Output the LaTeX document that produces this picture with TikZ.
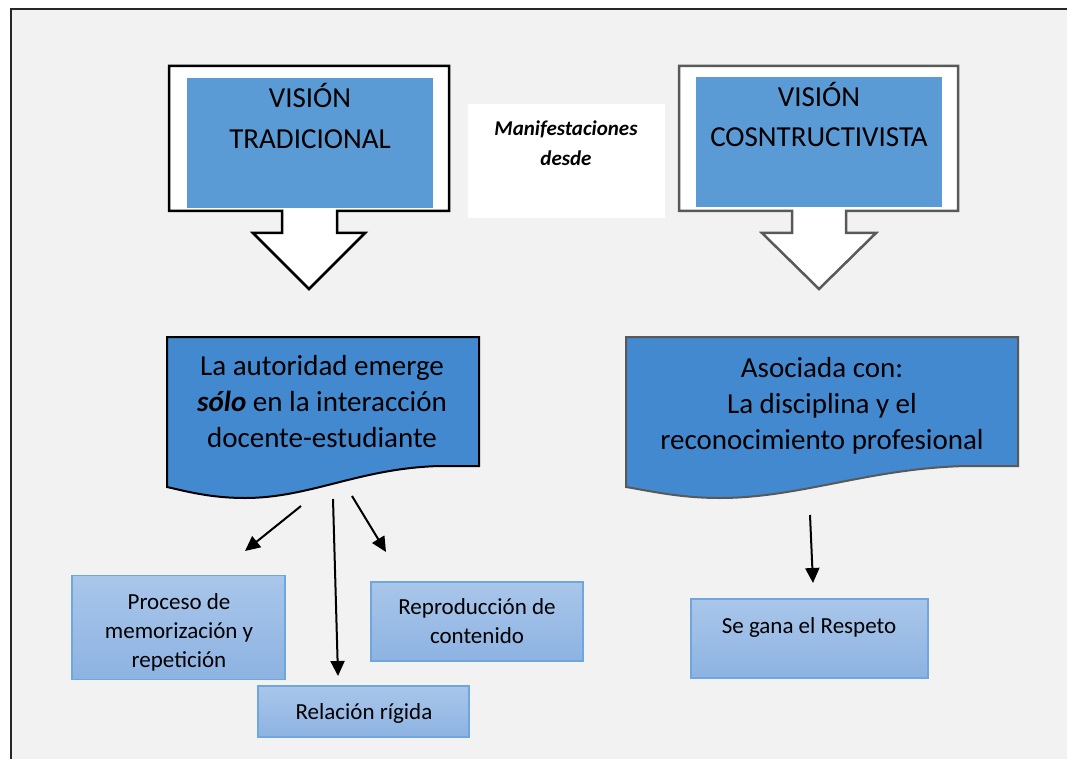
\documentclass[tikz,border=0pt]{standalone}
\usepackage{fontspec}
\setmainfont{Carlito}
\usetikzlibrary{arrows.meta}
\definecolor{bgfill}{HTML}{F2F2F2}
\definecolor{visblue}{HTML}{5B9BD5}
\definecolor{docblue}{HTML}{4389D0}
\definecolor{darkgray}{HTML}{595959}
\definecolor{smalltop}{HTML}{A9C6EA}
\definecolor{smallbot}{HTML}{8DB3E2}
\definecolor{smallline}{HTML}{6FA6DD}
\tikzset{
  bigtext/.style={inner sep=0pt, align=center, text=black},
  visfill/.style={fill=visblue, draw=none, inner sep=0pt},
  smallbox/.style={draw=smallline, line width=1.3pt, top color=smalltop, bottom color=smallbot, inner sep=0pt},
  conn/.style={line width=2pt, -{Triangle[length=15pt,width=14pt]}},
}
\begin{document}
\begin{tikzpicture}[x=1pt,y=-1pt]
\useasboundingbox (0,0) rectangle (1067,759);
% frame
\fill[white] (0,0) rectangle (1067,759);
\fill[bgfill] (11,9) rectangle (1067,759);
\draw[line width=2pt, black!85] (11,759) -- (11,9) -- (1067,9);

% left block arrow callout
\draw[line width=2.5pt, fill=white, line join=miter]
  (169,66) -- (449,66) -- (449,211) -- (337,211) -- (337,233) -- (365,233)
  -- (309,289) -- (253,233) -- (282,233) -- (282,211) -- (169,211) -- cycle;
\node[visfill, minimum width=246pt, minimum height=130pt] (tradbox) at (310,143) {};
\node[bigtext, font=\fontsize{29}{41}\selectfont] (tradtext) at (310,116) {VISIÓN\\TRADICIONAL};

% right block arrow callout
\draw[line width=2.5pt, draw=darkgray, fill=white, line join=miter]
  (679,66) -- (958,66) -- (958,211) -- (846,211) -- (846,233) -- (876,233)
  -- (819,289) -- (762,233) -- (792,233) -- (792,211) -- (679,211) -- cycle;
\node[visfill, minimum width=246pt, minimum height=130pt] (constbox) at (819,142) {};
\node[bigtext, font=\fontsize{29}{40}\selectfont] (consttext) at (819,115) {VISIÓN\\COSNTRUCTIVISTA};

% middle label
\node[fill=white, minimum width=197pt, minimum height=114pt, inner sep=0pt] (manibox) at (566.5,161) {};
\node[bigtext, font=\fontsize{21}{30}\selectfont\bfseries\itshape] (manitext) at (566,143) {Manifestaciones\\desde};

% left document shape
\draw[line width=2pt, fill=docblue]
  (167,337) -- (479,337) -- (479,466) -- (440,466)
  .. controls (360,468) and (310,498) .. (245,498)
  .. controls (210,498) and (185,491) .. (167,487) -- cycle;
\node[bigtext, font=\fontsize{29}{36}\selectfont] (lefttext) at (322,402)
  {La autoridad emerge\\\textbf{\textit{sólo}} en la interacción\\docente-estudiante};

% right document shape
\draw[line width=2pt, draw=darkgray, fill=docblue]
  (626,337) -- (1018,337) -- (1018,466) -- (967,466)
  .. controls (870,468) and (800,498) .. (720,498)
  .. controls (680,498) and (650,491) .. (626,487) -- cycle;
\node[bigtext, font=\fontsize{29}{36}\selectfont] (righttext) at (822,406)
  {Asociada con:\\La disciplina y el\\reconocimiento profesional};

% small boxes
\node[smallbox, minimum width=213pt, minimum height=104pt] (proceso) at (178.5,627.5) {};
\node[bigtext, font=\fontsize{23}{29}\selectfont] (procesotext) at (179,632)
  {Proceso de\\memorización y\\repetición};
\node[smallbox, minimum width=212pt, minimum height=79pt] (repro) at (477,621.5) {};
\node[bigtext, font=\fontsize{23}{29}\selectfont] (reprotext) at (477,621)
  {Reproducción de\\contenido};
\node[smallbox, minimum width=211pt, minimum height=51pt] (relacion) at (363.5,711.5) {};
\node[bigtext, font=\fontsize{23}{29}\selectfont] (relaciontext) at (364,713)
  {Relación rígida};
\node[smallbox, minimum width=237pt, minimum height=79pt] (respeto) at (809.5,638.5) {};
\node[bigtext, font=\fontsize{23}{29}\selectfont] (respetotext) at (809,627)
  {Se gana el Respeto};

% connectors (free ends)
\coordinate (s1) at (301,506); \coordinate (e1) at (245,551);
\coordinate (s2) at (333,499); \coordinate (e2) at (338,676);
\coordinate (s3) at (352,496); \coordinate (e3) at (386,552);
\coordinate (s4) at (810,515); \coordinate (e4) at (813,583);
\draw[conn] (s1) -- (e1);
\draw[conn] (s2) -- (e2);
\draw[conn] (s3) -- (e3);
\draw[conn] (s4) -- (e4);
\end{tikzpicture}
\end{document}
